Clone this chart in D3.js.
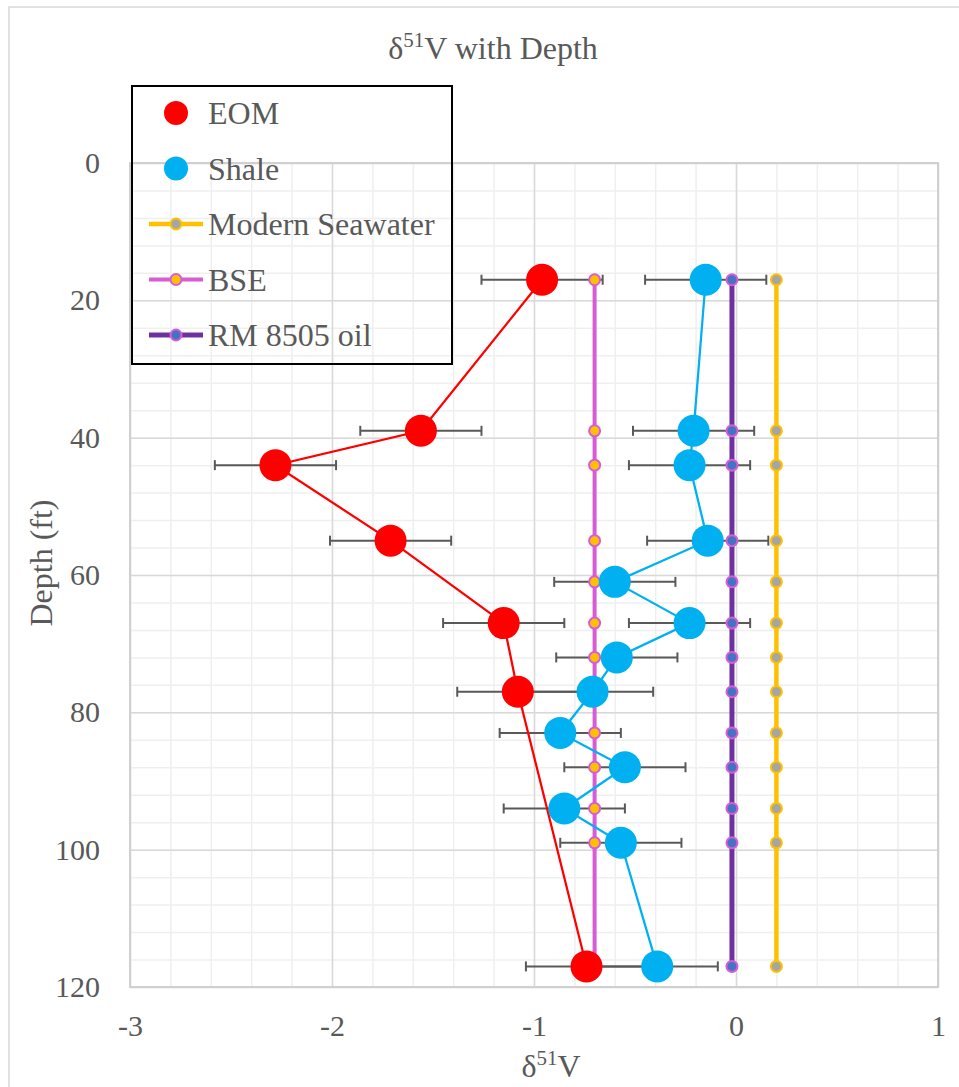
<!DOCTYPE html>
<html lang="en">
<head>
	<meta charset="utf-8">
	<title>d51V with Depth</title>
	<script src="https://d3js.org/d3.v7.min.js"></script>
	<style>
		body { margin: 0; background: #fff; }
		svg text { font-family: "Liberation Serif", "Times New Roman", serif !important; fill: #595959; }
		.grid .domain { display: none; }
	</style>
</head>
<body>
<script>
	// depth (ft) and d51V values
	var eomDepth = [17, 39, 44, 55, 67, 77, 117];
	var eomV = [-0.96, -1.56, -2.28, -1.71, -1.15, -1.08, -0.74];
	var eomErr = [0.3, 0.3, 0.3, 0.3, 0.3, 0.3, 0.3];

	var shaleDepth = [17, 39, 44, 55, 61, 67, 72, 77, 83, 88, 94, 99, 117];
	var shaleV = [-0.15, -0.21, -0.23, -0.14, -0.60, -0.23, -0.59, -0.71, -0.87, -0.55, -0.85, -0.57, -0.39];
	var shaleErr = [0.3, 0.3, 0.3, 0.3, 0.3, 0.3, 0.3, 0.3, 0.3, 0.3, 0.3, 0.3, 0.3];

	// reference values, drawn at every shale depth
	var seawaterV = 0.20;
	var bseV = -0.70;
	var rmOilV = -0.02;

	var xTicks = [-3, -2, -1, 0, 1];
	var yTicks = [0, 20, 40, 60, 80, 100, 120];
	var xMinor = d3.range(-3, 1.001, 0.2);
	var yMinor = d3.range(0, 121, 4);

	var legendNames = ["EOM", "Shale", "Modern Seawater", "BSE", "RM 8505 oil"];

	var w = 959, h = 1087;
	var pLeft = 130, pRight = 938, pTop = 163, pBottom = 987;

	var xScale = d3.scaleLinear().domain([-3, 1]).range([pLeft, pRight]);
	var yScale = d3.scaleLinear().domain([0, 120]).range([pTop, pBottom]);

	var svg = d3.select("body").append("svg")
		.attr("width", w)
		.attr("height", h);

	// chart frame
	svg.append("rect")
		.attr("x", 9).attr("y", 7)
		.attr("width", 970).attr("height", 1100)
		.attr("fill", "none")
		.attr("stroke", "#d9d9d9")
		.attr("stroke-width", 1.5);

	// minor gridlines
	svg.append("g").attr("class", "grid")
		.attr("transform", "translate(0," + pBottom + ")")
		.call(d3.axisBottom(xScale).tickValues(xMinor).tickSize(-(pBottom - pTop)).tickFormat(""))
		.selectAll("line").attr("stroke", "#efefef").attr("stroke-width", 1.5);
	svg.append("g").attr("class", "grid")
		.attr("transform", "translate(" + pLeft + ",0)")
		.call(d3.axisLeft(yScale).tickValues(yMinor).tickSize(-(pRight - pLeft)).tickFormat(""))
		.selectAll("line").attr("stroke", "#efefef").attr("stroke-width", 1.5);

	// major gridlines
	svg.append("g").attr("class", "grid")
		.attr("transform", "translate(0," + pBottom + ")")
		.call(d3.axisBottom(xScale).tickValues(xTicks).tickSize(-(pBottom - pTop)).tickFormat(""))
		.selectAll("line").attr("stroke", "#d9d9d9").attr("stroke-width", 1.5);
	svg.append("g").attr("class", "grid")
		.attr("transform", "translate(" + pLeft + ",0)")
		.call(d3.axisLeft(yScale).tickValues(yTicks).tickSize(-(pRight - pLeft)).tickFormat(""))
		.selectAll("line").attr("stroke", "#d9d9d9").attr("stroke-width", 1.5);

	// plot area border
	svg.append("rect")
		.attr("x", pLeft).attr("y", pTop)
		.attr("width", pRight - pLeft).attr("height", pBottom - pTop)
		.attr("fill", "none")
		.attr("stroke", "#d0d0d0")
		.attr("stroke-width", 2);

	// tick labels (plain hyphen for negatives, like the original)
	var plain = function (d) { return String(d); };
	svg.append("g").attr("class", "grid")
		.attr("transform", "translate(0," + pBottom + ")")
		.call(d3.axisBottom(xScale).tickValues(xTicks).tickSize(0).tickPadding(28).tickFormat(plain))
		.attr("font-family", "Liberation Serif")
		.selectAll("text").attr("font-size", 30);

	svg.append("g").attr("class", "grid")
		.attr("transform", "translate(" + pLeft + ",0)")
		.call(d3.axisLeft(yScale).tickValues(yTicks).tickSize(0).tickPadding(30).tickFormat(plain))
		.attr("font-family", "Liberation Serif")
		.selectAll("text").attr("font-size", 30);

	// error bars, all in one layer under the markers
	function errorBars(depths, vals, errs) {
		var g = svg.append("g")
			.attr("stroke", "#595959")
			.attr("stroke-width", 2);
		depths.forEach(function (d, i) {
			var yy = yScale(d);
			var x1 = xScale(vals[i] - errs[i]);
			var x2 = xScale(vals[i] + errs[i]);
			g.append("line").attr("x1", x1).attr("x2", x2).attr("y1", yy).attr("y2", yy);
			g.append("line").attr("x1", x1).attr("x2", x1).attr("y1", yy - 5).attr("y2", yy + 5);
			g.append("line").attr("x1", x2).attr("x2", x2).attr("y1", yy - 5).attr("y2", yy + 5);
		});
	}
	errorBars(eomDepth, eomV, eomErr);
	errorBars(shaleDepth, shaleV, shaleErr);

	var lineGen = d3.line()
		.x(function (p) { return xScale(p[0]); })
		.y(function (p) { return yScale(p[1]); });

	// constant reference series
	function refSeries(val, lineCol, lineW, fill, stroke) {
		var pts = shaleDepth.map(function (d) { return [val, d]; });
		svg.append("path")
			.datum(pts)
			.attr("fill", "none")
			.attr("stroke", lineCol)
			.attr("stroke-width", lineW)
			.attr("d", lineGen);
		svg.append("g").selectAll("circle")
			.data(pts)
			.enter()
			.append("circle")
			.attr("cx", function (p) { return xScale(p[0]); })
			.attr("cy", function (p) { return yScale(p[1]); })
			.attr("r", 5.5)
			.attr("fill", fill)
			.attr("stroke", stroke)
			.attr("stroke-width", 2);
	}
	refSeries(seawaterV, "#ffc000", 4.5, "#a5a5a5", "#ffc000");
	refSeries(bseV, "#d65dd6", 4, "#ffc000", "#d65dd6");
	refSeries(rmOilV, "#7030a0", 5, "#4472c4", "#d65dd6");

	// sample series
	function sampleSeries(depths, vals, col) {
		var pts = depths.map(function (d, i) { return [vals[i], d]; });
		svg.append("path")
			.datum(pts)
			.attr("fill", "none")
			.attr("stroke", col)
			.attr("stroke-width", 2.25)
			.attr("d", lineGen);
		svg.append("g").selectAll("circle")
			.data(pts)
			.enter()
			.append("circle")
			.attr("cx", function (p) { return xScale(p[0]); })
			.attr("cy", function (p) { return yScale(p[1]); })
			.attr("r", 16)
			.attr("fill", col);
	}
	sampleSeries(eomDepth, eomV, "#ff0000");
	sampleSeries(shaleDepth, shaleV, "#00b0f0");

	// title
	var title = svg.append("text")
		.attr("x", 493).attr("y", 59)
		.attr("text-anchor", "middle")
		.attr("font-size", 32);
	title.append("tspan").text("\u03b4");
	title.append("tspan").attr("font-size", 21).attr("dy", -12).text("51");
	title.append("tspan").attr("dy", 12).text("V with Depth");

	// axis titles
	var xTitle = svg.append("text")
		.attr("x", 551).attr("y", 1077)
		.attr("text-anchor", "middle")
		.attr("font-size", 32);
	xTitle.append("tspan").text("\u03b4");
	xTitle.append("tspan").attr("font-size", 21).attr("dy", -12).text("51");
	xTitle.append("tspan").attr("dy", 12).text("V");

	svg.append("text")
		.attr("text-anchor", "middle")
		.attr("transform", "translate(52,563)rotate(-90)")
		.attr("font-size", 32)
		.text("Depth (ft)");

	// legend
	var lg = svg.append("g");
	lg.append("rect")
		.attr("x", 132).attr("y", 86)
		.attr("width", 320).attr("height", 278)
		.attr("fill", "none")
		.attr("stroke", "#000")
		.attr("stroke-width", 2);

	var legendStyle = [
		{ dot: "#ff0000", r: 12 },
		{ dot: "#00b0f0", r: 12 },
		{ line: "#ffc000", lw: 4.5, fill: "#a5a5a5", stroke: "#ffc000" },
		{ line: "#d65dd6", lw: 4, fill: "#ffc000", stroke: "#d65dd6" },
		{ line: "#7030a0", lw: 5, fill: "#4472c4", stroke: "#d65dd6" }
	];
	legendNames.forEach(function (name, i) {
		var yy = 113 + i * 55.5;
		var s = legendStyle[i];
		if (s.line) {
			lg.append("line")
				.attr("x1", 149).attr("x2", 203)
				.attr("y1", yy).attr("y2", yy)
				.attr("stroke", s.line)
				.attr("stroke-width", s.lw);
			lg.append("circle")
				.attr("cx", 176).attr("cy", yy).attr("r", 5.5)
				.attr("fill", s.fill)
				.attr("stroke", s.stroke)
				.attr("stroke-width", 2);
		} else {
			lg.append("circle")
				.attr("cx", 176).attr("cy", yy).attr("r", s.r)
				.attr("fill", s.dot);
		}
		lg.append("text")
			.attr("x", 208).attr("y", yy)
			.attr("dy", "0.35em")
			.attr("font-size", 32)
			.text(name);
	});
</script>
</body>
</html>
